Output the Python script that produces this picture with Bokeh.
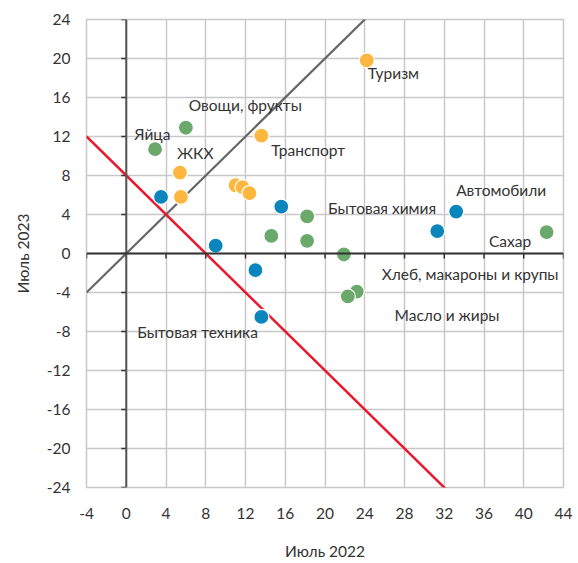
from bokeh.plotting import figure
from bokeh.models import FixedTicker, ColumnDataSource, Range1d, Span
from bokeh.core.properties import value
from bokeh.embed import file_html
from bokeh.resources import INLINE

# ---- data ----
orange_x = [24.2, 13.6, 5.4, 5.5, 11.0, 11.7, 12.4]
orange_y = [19.8, 12.1, 8.3, 5.8, 7.0, 6.8, 6.2]

green_x = [2.9, 6.0, 18.2, 14.6, 18.2, 21.9, 42.3, 23.2, 22.3]
green_y = [10.7, 12.9, 3.8, 1.8, 1.3, -0.1, 2.2, -3.9, -4.4]

blue_x = [3.5, 9.0, 15.6, 13.0, 13.6, 33.2, 31.3]
blue_y = [5.8, 0.8, 4.8, -1.7, -6.5, 4.3, 2.3]

label_text = ["Туризм", "Овощи, фрукты", "Яйца", "ЖКХ", "Транспорт", "Бытовая химия",
              "Автомобили", "Сахар", "Хлеб, макароны и крупы", "Масло и жиры", "Бытовая техника"]
label_x = [24.3, 6.3, 0.8, 5.1, 14.6, 20.3, 33.2, 36.5, 25.7, 27.0, 1.1]
label_y = [18.5, 15.2, 12.3, 10.3, 10.6, 4.7, 6.5, 1.3, -2.1, -6.3, -8.1]

diag_x = [-4, 44]
diag_y = [-4, 44]
red_x = [-4, 44]
red_y = [12, -36]

ticks_x = list(range(-4, 45, 4))
ticks_y = list(range(-24, 25, 4))
TICK_LEN = 0.5

FONT = "Lato"
TXT = "#333333"

p = figure(width=578, height=563, output_backend="svg", toolbar_location=None,
           x_range=Range1d(-4, 44), y_range=Range1d(-24, 24),
           min_border_left=86, min_border_right=15, min_border_top=19, min_border_bottom=76)
p.background_fill_color = "white"
p.border_fill_color = "white"
p.outline_line_color = "#c8c8c8"
p.outline_line_width = 1.5

for ax, lab, ticks in ((p.xaxis[0], "Июль 2022", ticks_x), (p.yaxis[0], "Июль 2023", ticks_y)):
    ax.ticker = FixedTicker(ticks=ticks)
    ax.major_label_overrides = {t: str(t) for t in ticks}
    ax.axis_line_color = None
    ax.major_tick_line_color = None
    ax.minor_tick_line_color = None
    ax.major_tick_out = 0
    ax.major_tick_in = 0
    ax.major_label_text_font = FONT
    ax.major_label_text_font_size = "15.5px"
    ax.major_label_text_color = TXT
    ax.axis_label = lab
    ax.axis_label_text_font = FONT
    ax.axis_label_text_font_size = "15.5px"
    ax.axis_label_text_font_style = "normal"
    ax.axis_label_text_color = TXT
p.xaxis[0].major_label_standoff = 20
p.yaxis[0].major_label_standoff = 16
p.xaxis[0].axis_label_standoff = 20
p.yaxis[0].axis_label_standoff = 12

p.xgrid.ticker = FixedTicker(ticks=ticks_x)
p.ygrid.ticker = FixedTicker(ticks=ticks_y)
for g in (p.xgrid[0], p.ygrid[0]):
    g.grid_line_color = "#c8c8c8"
    g.grid_line_width = 1.5

# zero axes with tick marks
p.add_layout(Span(location=0, dimension="height", line_color="#555555", line_width=2))
p.add_layout(Span(location=0, dimension="width", line_color="#333333", line_width=2))
p.segment(x0=[0] * len(ticks_y), y0=ticks_y, x1=[-TICK_LEN] * len(ticks_y), y1=ticks_y,
          line_color="#333333", line_width=1.5)
p.segment(x0=ticks_x, y0=[0] * len(ticks_x), x1=ticks_x, y1=[-TICK_LEN] * len(ticks_x),
          line_color="#333333", line_width=1.5)

p.line(diag_x, diag_y, line_color="#666666", line_width=2.2)
p.line(red_x, red_y, line_color="#e8192c", line_width=2.5)

p.scatter(green_x, green_y, size=15, fill_color="#6aa86c", line_color="white", line_width=1.2)
p.scatter(orange_x, orange_y, size=15, fill_color="#fdb73e", line_color="white", line_width=1.2)
p.scatter(blue_x, blue_y, size=15, fill_color="#0a86bc", line_color="white", line_width=1.2)

src = ColumnDataSource(dict(x=label_x, y=label_y, t=label_text))
p.text(x="x", y="y", text="t", source=src, text_font=value(FONT), text_font_size="15.5px",
       text_color=TXT, text_align="left", text_baseline="middle")

open("out.html", "w").write(file_html(p, INLINE))
